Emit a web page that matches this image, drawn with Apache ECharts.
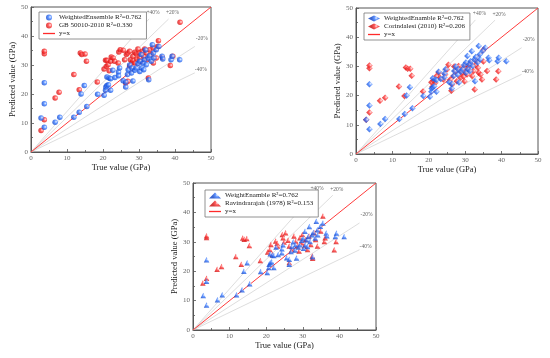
<!DOCTYPE html>
<html><head><meta charset="utf-8">
<script src="https://cdn.jsdelivr.net/npm/echarts@6.0.0/dist/echarts.min.js"></script>
<style>html,body{margin:0;padding:0;background:#fff}#c{width:550px;height:358px}</style>
</head><body><div id="c"></div>
<script>
// ---- data (true value, predicted value) in GPa ----
const weightedEnsemble = [
[2.8,11.7],[3.7,8.5],[3.7,16.6],[3.7,23.9],[6.7,10.3],[8.0,12.0],[11.9,12.0],[13.4,13.7],[13.9,20.0],[14.8,22.9],[15.5,15.7],[18.5,19.9],
[20.3,19.6],[20.7,21.3],[20.8,22.4],[21.1,22.9],[21.1,25.9],[21.5,23.2],[21.7,25.5],[22.1,25.3],[22.1,21.3],[22.7,28.2],[23.3,25.7],[24.3,27.6],[24.3,26.3],[24.6,29.0],[25.6,24.6],[26.3,22.4],[26.3,24.1],[26.8,26.7],[27.0,28.4],[27.4,30.0],[27.9,27.2],[28.0,29.0],[28.3,24.5],[28.8,28.2],[29.2,29.0],[29.7,30.5],[30.2,31.3],[30.2,27.8],[30.6,33.6],[30.7,29.0],[31.1,30.7],[31.3,28.4],[31.5,31.8],[31.8,35.2],[32.0,30.1],[32.5,32.4],[32.7,24.9],[32.9,33.2],[33.4,31.3],[33.7,37.0],[34.0,34.1],[34.1,32.4],[34.8,35.3],[35.5,36.4],[36.4,33.0],[36.6,32.1],[38.9,31.8],[39.2,33.0],[41.3,31.8]
];
const gb50010 = [
[2.8,7.4],[3.7,11.1],[3.7,33.9],[3.7,34.7],[6.7,18.6],[7.8,20.6],[11.9,26.7],[13.4,21.5],[13.7,34.1],[14.1,33.6],[15.0,33.8],[15.4,31.3],[18.4,24.1],
[20.3,28.6],[20.7,31.6],[20.9,29.5],[21.1,31.6],[21.4,30.1],[21.7,28.0],[22.1,31.3],[22.3,32.8],[22.8,32.4],[23.2,31.3],[24.2,30.7],[24.4,34.5],[24.8,35.3],[25.6,35.1],[26.0,31.8],[26.3,23.8],[26.5,33.6],[26.9,34.1],[26.9,24.4],[27.4,34.7],[27.4,29.5],[27.6,31.8],[28.0,30.7],[28.3,33.0],[28.3,31.5],[28.8,34.4],[28.8,30.7],[29.2,33.9],[29.4,32.1],[29.7,35.5],[30.0,34.1],[30.2,32.4],[30.5,31.3],[30.9,34.7],[31.3,33.0],[31.6,35.5],[32.0,34.1],[32.2,31.8],[32.6,25.5],[32.9,35.3],[33.4,33.6],[33.9,35.9],[34.0,30.7],[34.8,32.4],[35.1,36.4],[35.4,38.4],[36.5,32.6],[38.7,29.8],[39.4,33.0],[41.4,44.7]
];
const corindalesi = [
[2.8,11.7],[3.7,14.2],[3.7,29.4],[3.7,30.3],[6.6,18.2],[8.0,19.3],[11.8,23.1],[13.3,19.9],[13.7,29.6],[14.2,29.2],[14.9,29.2],[15.3,26.8],[18.4,21.4],
[20.7,24.6],[21.3,25.2],[21.8,24.4],[21.0,23.0],[22.0,26.5],[22.7,27.8],[23.1,26.1],[24.0,25.5],[24.5,27.2],[25.0,28.9],[25.4,30.6],[25.9,25.5],[26.4,23.8],[26.2,21.7],[26.8,26.7],[27.0,30.0],[27.3,28.4],[27.7,24.9],[28.2,30.1],[28.5,29.0],[28.7,26.1],[29.1,27.8],[29.5,26.5],[29.6,29.5],[29.8,24.9],[30.0,28.0],[30.2,30.6],[30.5,27.2],[30.9,28.9],[31.0,30.0],[31.4,31.2],[31.9,26.7],[32.3,28.4],[32.6,22.1],[32.8,30.5],[33.2,31.8],[33.5,29.5],[33.7,27.8],[34.2,27.2],[34.6,25.5],[35.0,31.7],[35.1,35.8],[36.0,28.4],[38.5,25.5],[39.1,28.3]
];
const ravindrarajah = [
[2.7,16.0],[3.7,17.6],[3.7,31.5],[3.7,32.1],[6.6,20.7],[7.8,21.6],[11.7,25.0],[13.2,22.4],[13.6,31.3],[14.0,30.9],[14.7,31.1],[15.4,28.7],[18.4,23.6],
[20.4,26.5],[21.0,27.4],[21.3,29.1],[21.7,25.7],[22.6,30.3],[23.0,29.5],[23.1,28.6],[24.4,32.5],[24.6,31.4],[24.9,29.9],[25.3,33.1],[26.0,30.5],[26.3,28.6],[26.3,23.0],[27.0,27.4],[27.6,32.0],[28.1,30.3],[28.5,28.6],[29.0,26.9],[29.2,31.4],[29.7,29.7],[29.9,32.5],[30.4,28.6],[30.8,30.8],[31.3,27.4],[31.7,32.0],[32.2,29.1],[32.6,25.2],[32.7,24.4],[33.1,33.1],[33.5,30.8],[34.0,28.6],[34.9,33.7],[35.5,38.8],[35.9,30.1],[36.1,31.4],[38.6,27.3],[39.1,30.1]
];
const refLines = [ // label, slope, end of drawn segment (x)
  {name:'+40%', k:1.4, xEnd:32.8},
  {name:'+20%', k:1.2, xEnd:38.2},
  {name:'-20%', k:0.8, xEnd:45.5},
  {name:'-40%', k:0.6, xEnd:45.5}
];
const axisTicks = [0,10,20,30,40,50];

const panels = [
  {we:'WeightedEnsemble R\u00b2=0.762', other:'GB 50010-2010 R\u00b2=0.330', data:gb50010, symbol:'circle', size:5.5,
   grid:{left:31,top:7,width:180,height:145}, legend:{left:39,top:12}},
  {we:'WeightedEnamble R\u00b2=0.762', other:'Corindalesi (2010) R\u00b2=0.206', data:corindalesi, symbol:'diamond', size:6.5,
   grid:{left:356,top:8,width:182,height:146}, legend:{left:364,top:13}},
  {we:'WeightEnamble R\u00b2=0.762', other:'Ravindrarajah (1978) R\u00b2=0.153', data:ravindrarajah, symbol:'triangle', size:5.5,
   grid:{left:193,top:183,width:183,height:147}, legend:{left:205,top:190}}
];

const SERIF = '"Liberation Serif","Times New Roman",serif';
function ball(c0,c1,c2){
  return {type:'radial',x:0.68,y:0.42,r:0.75,colorStops:[{offset:0,color:c0},{offset:0.4,color:c1},{offset:1,color:c2}]};
}
const blueFill = ball('#e4eeff','#3a7bff','#0b3fc4');
const redFill = ball('#ffe0e0','#ff3535','#c80a0a');
const LINE_ICON = 'path://M0,0H12V1.3H0Z';

const grids=[], xAxes=[], yAxes=[], legends=[], series=[];
const labelPos = {'+40%':[4,-6],'+20%':[4,-6],'-20%':[7,-8],'-40%':[6,-3]};
panels.forEach((p,i)=>{
  grids.push(Object.assign({show:true,borderColor:'#555',borderWidth:1,backgroundColor:'#fff'},p.grid));
  const common = {gridIndex:i,type:'value',min:0,max:50,interval:10,
    axisLine:{show:true,onZero:false,lineStyle:{color:'#555',width:1}},
    axisTick:{show:true,inside:true,length:3,lineStyle:{color:'#555',width:0.8}},
    minorTick:{show:true,splitNumber:2,length:2,lineStyle:{color:'#555',width:0.8}},
    splitLine:{show:false},
    axisLabel:{fontFamily:SERIF,fontSize:7,color:'#666',margin:3,
      formatter:v=>axisTicks.indexOf(v)>=0?String(v):''},
    nameLocation:'middle',
    nameTextStyle:{fontFamily:SERIF,fontSize:8.5,color:'#222'}};
  xAxes.push(Object.assign({},common,{name:'True value (GPa)',nameGap:11}));
  yAxes.push(Object.assign({},common,{name:'Predicted value (GPa)',nameGap:12}));
  legends.push({left:p.legend.left,top:p.legend.top,orient:'vertical',
    data:[p.we,p.other,{name:'y=x',icon:LINE_ICON,itemStyle:{color:'#ff2a2a',borderColor:'#ff2a2a',borderWidth:0,opacity:1}}],
    itemGap:1,itemWidth:12,itemHeight:6,
    padding:[2,5,2,4],borderColor:'#777',borderWidth:0.8,backgroundColor:'#fff',
    selectedMode:false,
    textStyle:{fontFamily:SERIF,fontSize:7,color:'#222',padding:[0,0,0,-1]}});
  refLines.forEach(r=>{
    series.push({type:'line',xAxisIndex:i,yAxisIndex:i,silent:true,z:1,
      symbol:'circle',symbolSize:0.01,showSymbol:true,
      itemStyle:{color:'rgba(0,0,0,0)'},
      lineStyle:{color:'#d4d4d4',width:0.8},
      data:[{value:[0,0],label:{show:false}},
            {value:[r.xEnd,r.k*r.xEnd],label:{show:true,formatter:r.name,position:labelPos[r.name],
              align:'center',verticalAlign:'middle',fontFamily:SERIF,fontSize:5.5,color:'#666'}}]});
  });
  series.push({name:'y=x',type:'line',xAxisIndex:i,yAxisIndex:i,z:2,symbol:'none',silent:true,
    lineStyle:{color:'#ff3b3b',width:1},itemStyle:{color:'#ff3b3b'},data:[[0,0],[50,50]]});
  series.push({name:p.other,type:'scatter',xAxisIndex:i,yAxisIndex:i,z:3,symbol:p.symbol,symbolSize:p.size,
    itemStyle:{color:redFill},data:p.data});
  series.push({name:p.we,type:'scatter',xAxisIndex:i,yAxisIndex:i,z:4,symbol:p.symbol,symbolSize:p.size,
    itemStyle:{color:blueFill},data:weightedEnsemble});
});

const chart = echarts.init(document.getElementById('c'),null,{renderer:'canvas'});
chart.setOption({animation:false,backgroundColor:'#fff',grid:grids,xAxis:xAxes,yAxis:yAxes,legend:legends,series:series});
</script></body></html>
